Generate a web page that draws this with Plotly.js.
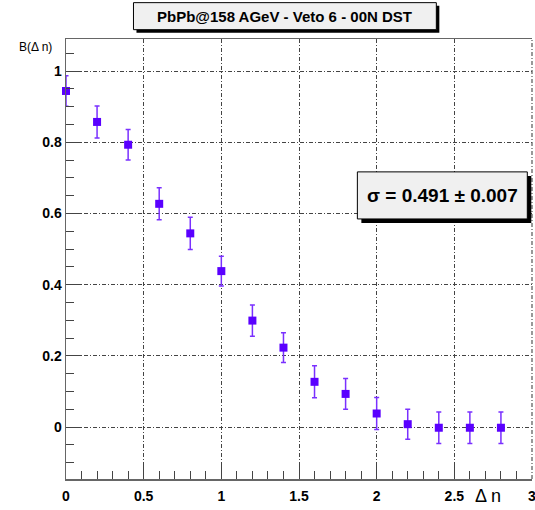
<!DOCTYPE html>
<html>
<head>
<meta charset="utf-8">
<script src="https://cdn.plot.ly/plotly-3.0.1.min.js"></script>
<style>html,body{margin:0;padding:0;background:#fff;}#chart{width:535px;height:510px;}</style>
</head>
<body>
<div id="chart"></div>
<script>
// ---- data ----
const deltaN = [0.0, 0.2, 0.4, 0.6, 0.8, 1.0, 1.2, 1.4, 1.6, 1.8, 2.0, 2.2, 2.4, 2.6, 2.8];
const bValues = [0.944, 0.857, 0.793, 0.627, 0.544, 0.438, 0.299, 0.223, 0.127, 0.093, 0.038, 0.008, -0.002, -0.002, -0.002];
const bErrors = [0.043, 0.045, 0.043, 0.045, 0.045, 0.042, 0.044, 0.042, 0.045, 0.043, 0.045, 0.042, 0.044, 0.044, 0.044];
const xTickVals = [0, 0.5, 1, 1.5, 2, 2.5, 3];
const xTickText = ["0", "0.5", "1", "1.5", "2", "2.5", "3"];
const titleText = "PbPb@158 AGeV - Veto 6 - 00N DST";
const fitText = "σ = 0.491 ± 0.007";
const yTitle = "B(Δ n)";
const xTitle = "Δ n";

// ---- geometry ----
const W = 535, H = 510;
const L = 65.5, R = 531.7, T = 39.3, B = 478.7;
const px = x => (x - L) / (R - L);
const py = y => (B - y) / (B - T);

const font = "Liberation Sans, Arial, sans-serif";

function box(x0, y0, x1, y1, off) {
  return [
    {type:'rect', xref:'paper', yref:'paper', x0:px(x0+off), x1:px(x1+off), y0:py(y1+off), y1:py(y0+off),
     fillcolor:'#000', line:{width:0}, layer:'above'},
    {type:'rect', xref:'paper', yref:'paper', x0:px(x0), x1:px(x1), y0:py(y1), y1:py(y0),
     fillcolor:'#f0f0f0', line:{color:'#000', width:1}, layer:'above'}
  ];
}

const trace = {
  x: deltaN, y: bValues, type:'scatter', mode:'markers',
  marker:{symbol:'square', size:8, color:'#5a00ff', line:{width:0}},
  error_y:{type:'data', array:bErrors, visible:true, color:'#7a30ff', thickness:1.5, width:2.5},
  showlegend:false, cliponaxis:false
};

const gridDash = '4px,2px,1px,2px';
const gridStyle = {gridcolor:'#444', gridwidth:1, griddash:gridDash};

// right-edge grid line (at the right end of the x range)
const edgeGrid = {type:'line', xref:'paper', yref:'paper', x0:1, x1:1,
  y0:0, y1:1, line:{color:'#555', width:1.2, dash:gridDash}, layer:'above'};

const layout = {
  width: W, height: H,
  margin:{l:L, r:W-R, t:T, b:H-B, pad:0},
  paper_bgcolor:'#fff', plot_bgcolor:'#fff',
  xaxis:Object.assign({
    range:[0, 3], tickmode:'array', tickvals:xTickVals, ticktext:xTickText,
    showgrid:true, zeroline:false,
    showline:true, linecolor:'#666', linewidth:1.5, mirror:true,
    ticks:'inside', ticklen:16, tickcolor:'#444', tickwidth:1,
    minor:{dtick:0.1, tick0:0, ticks:'inside', ticklen:8, tickcolor:'#444', showgrid:false},
    ticklabelstandoff:4, ticklabeloverflow:'allow',
    tickfont:{family:font, size:14, color:'#000', weight:'bold'}
  }, gridStyle),
  yaxis:Object.assign({
    range:[-0.146, 1.09], dtick:0.2, tick0:0, showgrid:true, zeroline:false,
    showline:true, linecolor:'#666', linewidth:1.5, mirror:false,
    ticks:'inside', ticklen:16, tickcolor:'#444', tickwidth:1,
    minor:{dtick:0.05, tick0:0, ticks:'inside', ticklen:8, tickcolor:'#444', showgrid:false},
    tickfont:{family:font, size:14, color:'#000', weight:'bold'}
  }, gridStyle),
  shapes: [edgeGrid].concat(box(133, 3, 436, 30, 3), box(357, 172, 527, 219, 4)),
  annotations:[
    {xref:'paper', yref:'paper', x:px(284.5), y:py(16.5), text:titleText, showarrow:false,
     font:{family:font, size:15, color:'#000', weight:'bold'}, xanchor:'center', yanchor:'middle'},
    {xref:'paper', yref:'paper', x:px(442), y:py(195.5), text:fitText, showarrow:false,
     font:{family:font, size:19, color:'#000', weight:'bold'}, xanchor:'center', yanchor:'middle'},
    {xref:'paper', yref:'paper', x:px(35), y:py(47), text:yTitle, showarrow:false,
     font:{family:font, size:12, color:'#000'}, xanchor:'center', yanchor:'middle'},
    {xref:'paper', yref:'paper', x:px(488), y:py(496), text:xTitle, showarrow:false,
     font:{family:font, size:18, color:'#000'}, xanchor:'center', yanchor:'middle'}
  ]
};

Plotly.newPlot('chart', [trace], layout, {displayModeBar:false, staticPlot:true});
</script>
</body>
</html>
